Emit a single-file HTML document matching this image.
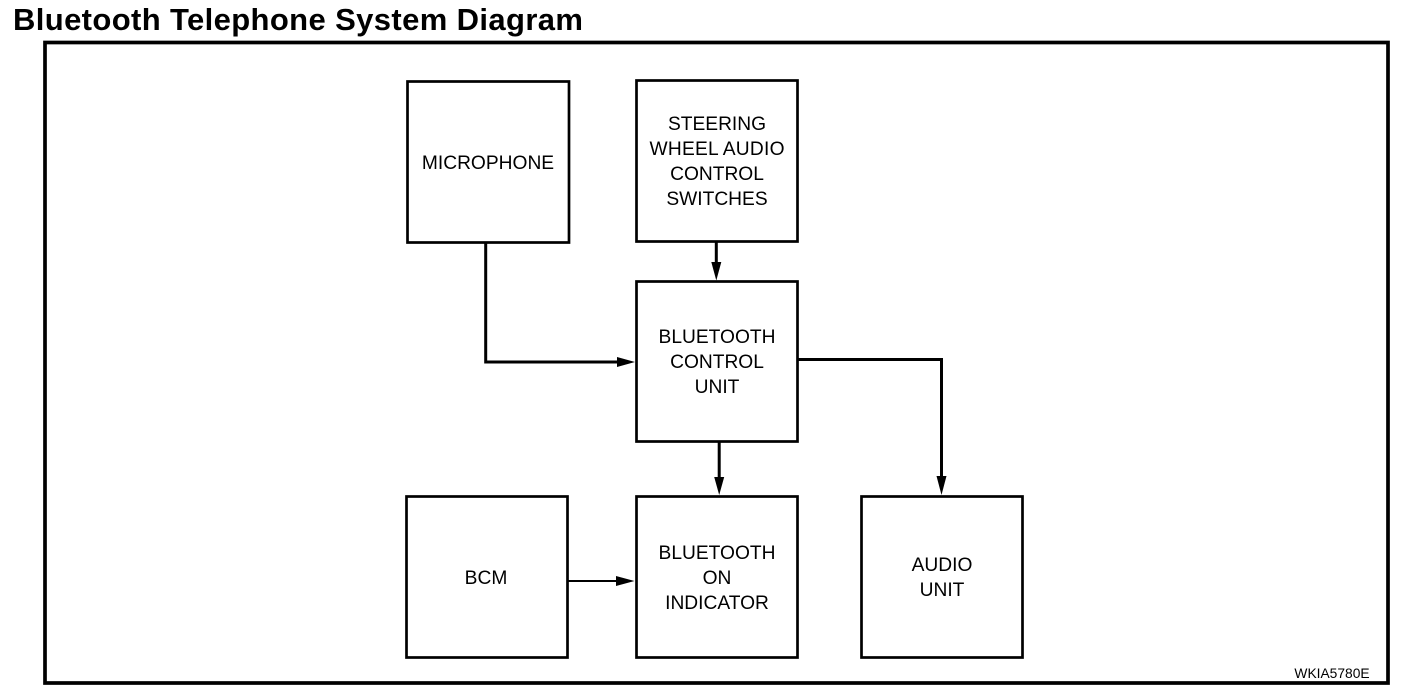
<!DOCTYPE html>
<html>
<head>
<meta charset="utf-8">
<style>
html,body{margin:0;padding:0;background:#fff;width:1408px;height:692px;overflow:hidden}
svg{display:block}
text{font-family:"Liberation Sans",Arial,sans-serif;fill:#000}
.l{font-size:19.2px;text-anchor:middle}
rect{fill:#fff;stroke:#000;stroke-width:2.700}
path.c{fill:none;stroke:#000;stroke-width:3}
</style>
</head>
<body>
<svg width="1408" height="692" viewBox="0 0 1408 692" xmlns="http://www.w3.org/2000/svg">
<text x="13" y="30" font-size="31" font-weight="bold" textLength="570" lengthAdjust="spacing">Bluetooth Telephone System Diagram</text>
<rect x="45" y="42.500" width="1343" height="640.500" style="stroke-width:3.700"/>

<rect x="407.500" y="81.500" width="161.500" height="161"/>
<rect x="636.500" y="80.500" width="161" height="161"/>
<rect x="636.500" y="281.500" width="161" height="160"/>
<rect x="406.500" y="496.500" width="161" height="161"/>
<rect x="636.500" y="496.500" width="161" height="161"/>
<rect x="861.500" y="496.500" width="161" height="161"/>

<text class="l" x="488" y="169">MICROPHONE</text>
<text class="l" x="717" y="130">STEERING</text>
<text class="l" x="717" y="155" textLength="135" lengthAdjust="spacing">WHEEL AUDIO</text>
<text class="l" x="717" y="180">CONTROL</text>
<text class="l" x="717" y="205">SWITCHES</text>
<text class="l" x="717" y="343">BLUETOOTH</text>
<text class="l" x="717" y="368">CONTROL</text>
<text class="l" x="717" y="393">UNIT</text>
<text class="l" x="486" y="584">BCM</text>
<text class="l" x="717" y="559">BLUETOOTH</text>
<text class="l" x="717" y="584">ON</text>
<text class="l" x="717" y="609">INDICATOR</text>
<text class="l" x="942" y="571">AUDIO</text>
<text class="l" x="942" y="596">UNIT</text>
<text x="1332" y="678" font-size="13.800" text-anchor="middle">WKIA5780E</text>

<path class="c" d="M485.700 243V362H622"/>
<polygon points="635,362 617,357 617,367"/>
<path class="c" d="M716.300 242V266"/>
<polygon points="716.300,280.500 711.300,262 721.300,262"/>
<path class="c" d="M798 359.500H941.500V482"/>
<polygon points="941.500,495 936.500,476 946.500,476"/>
<path class="c" d="M719.200 442V482"/>
<polygon points="719.200,495 714.200,477 724.200,477"/>
<path d="M568 581H622" fill="none" stroke="#000" stroke-width="2"/>
<polygon points="634.500,581 616,576 616,586"/>
</svg>
</body>
</html>
